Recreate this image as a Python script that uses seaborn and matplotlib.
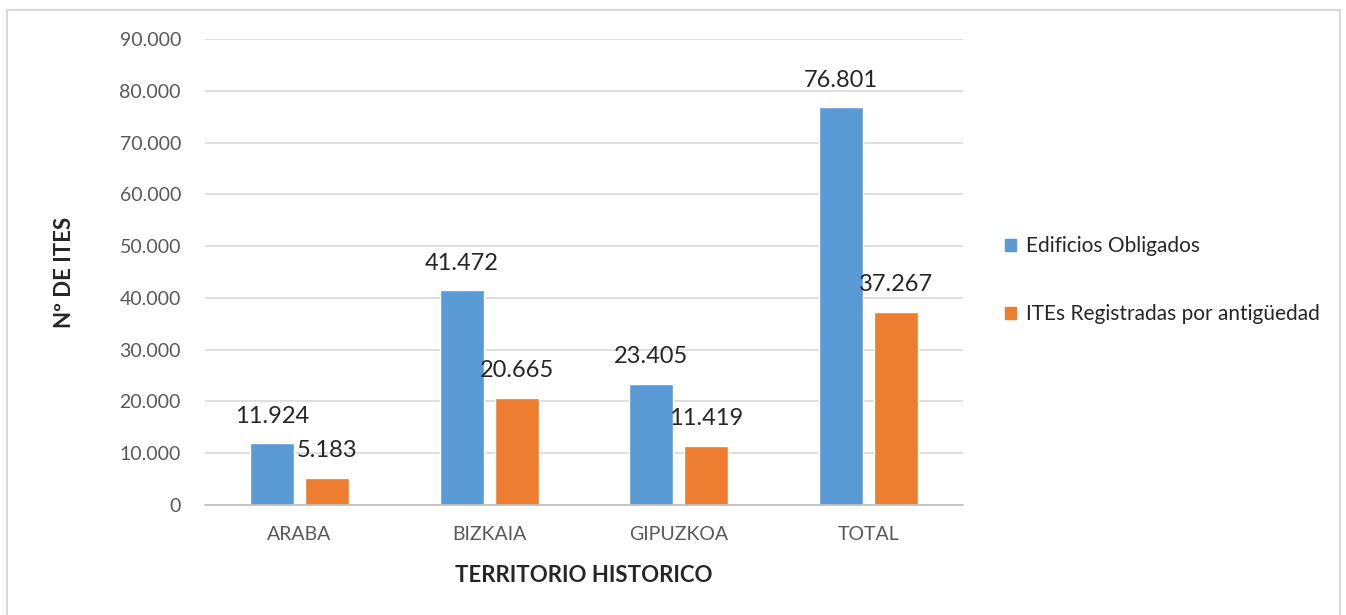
import pandas as pd
import matplotlib
matplotlib.use("Agg")
import matplotlib.pyplot as plt
from matplotlib.patches import Rectangle, Patch
import seaborn as sns

# Data
territorios = ["ARABA", "BIZKAIA", "GIPUZKOA", "TOTAL"]
edificios_obligados = [11924, 41472, 23405, 76801]
ites_registradas = [5183, 20665, 11419, 37267]
series_names = ["Edificios Obligados", "ITEs Registradas por antigüedad"]
colors = ["#5B9BD5", "#ED7D31"]

df = pd.DataFrame({
    "territorio": territorios * 2,
    "valor": edificios_obligados + ites_registradas,
    "serie": [series_names[0]] * 4 + [series_names[1]] * 4,
})

sns.set_style("white")
plt.rcParams["font.family"] = ["Lato", "DejaVu Sans"]

fig = plt.figure(figsize=(13.46, 6.15), dpi=100)
ax = fig.add_axes([0.152, 0.179, 0.5635, 0.7576])

sns.barplot(data=df, x="territorio", y="valor", hue="serie", palette=colors,
            width=0.58, gap=0.2, ax=ax, legend=False, saturation=1)

def fmt(v):
    return f"{v:,}".replace(",", ".")

for cont in ax.containers:
    ax.bar_label(cont, labels=[fmt(int(b.get_height())) for b in cont],
                 padding=12, fontsize=17, color="#262626")

ax.set_ylim(0, 90000)
ax.set_xlim(-0.5, 3.5)
ax.set_yticks(range(0, 90001, 10000))
ax.set_yticklabels([fmt(v) for v in range(0, 90001, 10000)])
ax.yaxis.grid(True, color="#d9d9d9", linewidth=1.2)
ax.set_axisbelow(True)
for s in ["top", "right", "left"]:
    ax.spines[s].set_visible(False)
ax.spines["bottom"].set_color("#bfbfbf")
ax.spines["bottom"].set_linewidth(1.2)

ax.tick_params(axis="y", length=0, labelsize=14, labelcolor="#595959", pad=17)
ax.tick_params(axis="x", length=0, labelsize=14, labelcolor="#595959", pad=15)
# category separator ticks
ax.set_xticks([-0.5, 0.5, 1.5, 2.5, 3.5], minor=True)
ax.tick_params(axis="x", which="minor", length=6, color="#bfbfbf", width=1.2)

ax.set_xlabel("TERRITORIO HISTORICO", fontsize=16, fontweight="bold", labelpad=16)
ax.set_ylabel("Nº DE ITES", fontsize=16, fontweight="bold", labelpad=32)

handles = [Patch(facecolor=c, edgecolor=c) for c in colors]
fig.legend(handles, series_names, loc="upper left", bbox_to_anchor=(0.733, 0.646),
           frameon=False, fontsize=15, labelspacing=2.3, handlelength=0.5,
           handleheight=0.5, handletextpad=0.5)

# chart border
fig.patches.append(Rectangle((0.0052, -0.01), 0.9905, 0.9937, transform=fig.transFigure,
                             fill=False, edgecolor="#d9d9d9", linewidth=1.5))

fig.savefig("out.png", dpi=100)
